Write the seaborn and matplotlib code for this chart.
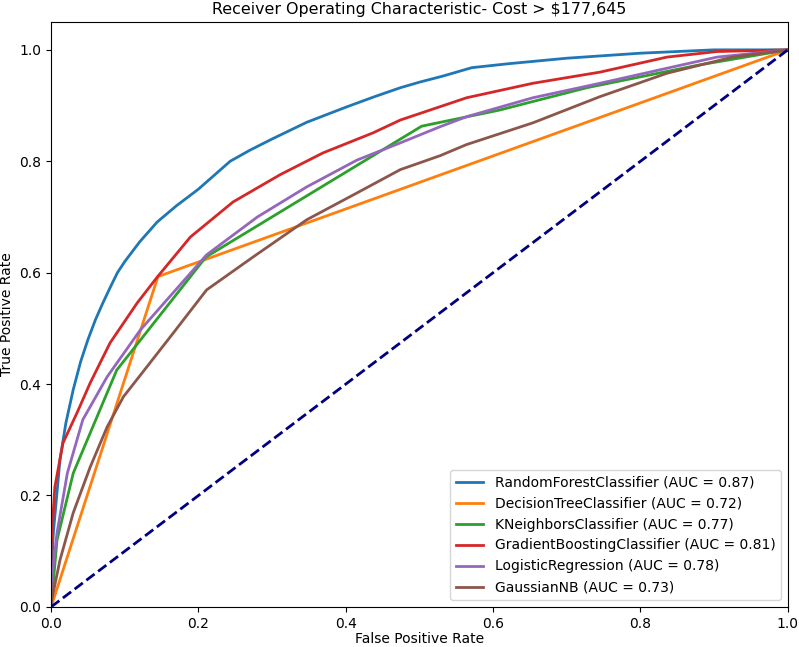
import pandas as pd
import seaborn as sns
import numpy as np
import matplotlib.pyplot as plt

# ROC points
rf_fpr = [0.0, 0.0, 0.003, 0.012, 0.02, 0.03, 0.04, 0.05, 0.06, 0.07, 0.08, 0.09, 0.1, 0.12, 0.144, 0.17, 0.2, 0.243, 0.27, 0.3, 0.347, 0.4, 0.437, 0.474, 0.5, 0.532, 0.571, 0.62, 0.7, 0.8, 0.9, 1.0]
rf_tpr = [0.0, 0.05, 0.133, 0.264, 0.33, 0.39, 0.44, 0.48, 0.515, 0.545, 0.573, 0.6, 0.62, 0.655, 0.691, 0.72, 0.75, 0.80, 0.82, 0.84, 0.87, 0.897, 0.915, 0.932, 0.942, 0.953, 0.968, 0.975, 0.985, 0.994, 1.0, 1.0]

dt_fpr = [0.0, 0.145, 1.0]
dt_tpr = [0.0, 0.593, 1.0]

knn_fpr = [0.0, 0.008, 0.03, 0.089, 0.21, 0.503, 0.609, 0.727, 0.88, 1.0]
knn_tpr = [0.0, 0.12, 0.24, 0.425, 0.628, 0.863, 0.892, 0.932, 0.973, 1.0]

gb_fpr = [0.0, 0.0, 0.005, 0.016, 0.035, 0.053, 0.08, 0.117, 0.144, 0.189, 0.247, 0.311, 0.369, 0.437, 0.474, 0.528, 0.564, 0.654, 0.745, 0.836, 0.904, 1.0]
gb_tpr = [0.0, 0.11, 0.215, 0.294, 0.348, 0.402, 0.474, 0.546, 0.592, 0.664, 0.727, 0.776, 0.815, 0.851, 0.874, 0.898, 0.914, 0.94, 0.96, 0.987, 0.997, 1.0]

lr_fpr = [0.0, 0.0, 0.008, 0.022, 0.043, 0.076, 0.121, 0.157, 0.211, 0.28, 0.347, 0.415, 0.474, 0.528, 0.564, 0.654, 0.745, 0.836, 0.904, 1.0]
lr_tpr = [0.0, 0.04, 0.133, 0.24, 0.336, 0.413, 0.497, 0.551, 0.632, 0.70, 0.754, 0.802, 0.833, 0.862, 0.88, 0.914, 0.94, 0.967, 0.987, 1.0]

nb_fpr = [0.0, 0.012, 0.03, 0.053, 0.076, 0.098, 0.13, 0.166, 0.211, 0.274, 0.347, 0.415, 0.474, 0.528, 0.564, 0.654, 0.745, 0.836, 0.925, 1.0]
nb_tpr = [0.007, 0.084, 0.169, 0.251, 0.323, 0.377, 0.431, 0.492, 0.569, 0.628, 0.695, 0.743, 0.785, 0.81, 0.83, 0.869, 0.916, 0.958, 0.987, 1.0]

models = ['RandomForestClassifier', 'DecisionTreeClassifier', 'KNeighborsClassifier',
          'GradientBoostingClassifier', 'LogisticRegression', 'GaussianNB']
aucs = [0.87, 0.72, 0.77, 0.81, 0.78, 0.73]
curves = [(rf_fpr, rf_tpr), (dt_fpr, dt_tpr), (knn_fpr, knn_tpr),
          (gb_fpr, gb_tpr), (lr_fpr, lr_tpr), (nb_fpr, nb_tpr)]

frames = []
for name, auc, (fpr, tpr) in zip(models, aucs, curves):
    label = f'{name} (AUC = {auc:.2f})'
    frames.append(pd.DataFrame({'fpr': fpr, 'tpr': tpr, 'model': label}))
df = pd.concat(frames, ignore_index=True)
labels = list(df['model'].unique())

fig, ax = plt.subplots(figsize=(7.99, 6.47), dpi=100)
fig.subplots_adjust(left=0.064, right=0.986, top=0.966, bottom=0.062)

sns.lineplot(data=df, x='fpr', y='tpr', hue='model', hue_order=labels,
             palette=sns.color_palette('tab10', 6), estimator=None, sort=False,
             linewidth=2, ax=ax)
ax.plot([0, 1], [0, 1], color='navy', lw=2, linestyle='--')

ax.set_xlim(0.0, 1.0)
ax.set_ylim(0.0, 1.05)
ax.set_xlabel('False Positive Rate', labelpad=1)
ax.set_ylabel('True Positive Rate')
ax.set_title('Receiver Operating Characteristic- Cost > $177,645', fontsize=11.4)
ax.legend(loc='lower right', title=None)

plt.savefig('out.png')
